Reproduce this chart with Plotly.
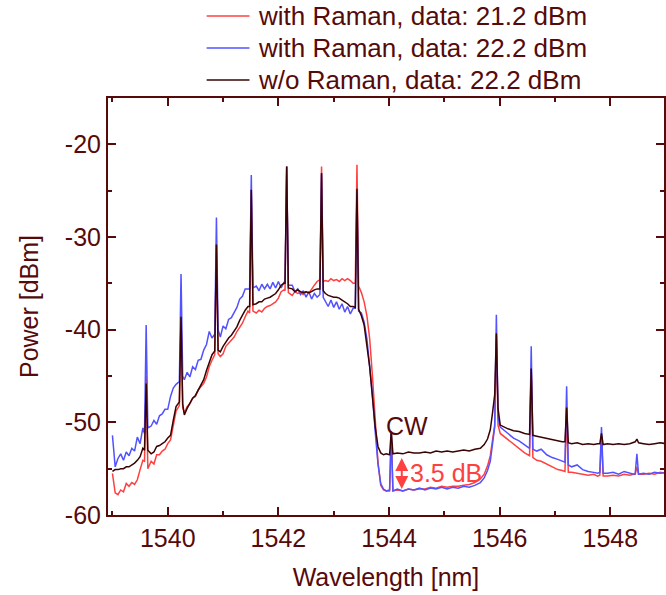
import plotly.graph_objects as go

# Optical spectrum: three measurement conditions on a shared wavelength grid
wavelength_nm = [
    1539.00, 1539.05, 1539.10, 1539.15, 1539.20, 1539.25, 1539.30, 1539.35, 1539.40, 1539.45,
    1539.50, 1539.55, 1539.58, 1539.61, 1539.64, 1539.70, 1539.75, 1539.80, 1539.85, 1539.90,
    1539.95, 1540.00, 1540.05, 1540.10, 1540.15, 1540.21, 1540.24, 1540.27, 1540.30, 1540.35,
    1540.40, 1540.45, 1540.50, 1540.55, 1540.60, 1540.65, 1540.70, 1540.75, 1540.80, 1540.85,
    1540.88, 1540.91, 1540.95, 1541.00, 1541.05, 1541.10, 1541.15, 1541.20, 1541.25, 1541.30,
    1541.35, 1541.40, 1541.45, 1541.48, 1541.51, 1541.54, 1541.60, 1541.65, 1541.70, 1541.75,
    1541.80, 1541.85, 1541.90, 1541.95, 1542.00, 1542.05, 1542.10, 1542.12, 1542.15, 1542.18,
    1542.25, 1542.30, 1542.35, 1542.40, 1542.45, 1542.50, 1542.55, 1542.60, 1542.65, 1542.70,
    1542.75, 1542.78, 1542.81, 1542.85, 1542.90, 1542.95, 1543.00, 1543.05, 1543.10, 1543.15,
    1543.20, 1543.25, 1543.30, 1543.35, 1543.39, 1543.42, 1543.45, 1543.50, 1543.55, 1543.60,
    1543.65, 1543.70, 1543.75, 1543.80, 1543.85, 1543.90, 1543.95, 1544.01, 1544.04, 1544.07,
    1544.15, 1544.25, 1544.35, 1544.45, 1544.55, 1544.65, 1544.75, 1544.85, 1544.95, 1545.05,
    1545.15, 1545.25, 1545.35, 1545.45, 1545.55, 1545.65, 1545.72, 1545.78, 1545.83, 1545.87,
    1545.91, 1545.94, 1545.97, 1546.01, 1546.07, 1546.15, 1546.25, 1546.35, 1546.45, 1546.54,
    1546.57, 1546.60, 1546.67, 1546.75, 1546.85, 1546.95, 1547.05, 1547.13, 1547.18, 1547.21,
    1547.24, 1547.30, 1547.40, 1547.50, 1547.60, 1547.70, 1547.77, 1547.81, 1547.84, 1547.87,
    1547.95, 1548.05, 1548.15, 1548.25, 1548.35, 1548.42, 1548.45, 1548.48, 1548.51, 1548.60,
    1548.70, 1548.80, 1548.90, 1549.00,
]

power_raman_21p2 = [
    -55.5, -57.6, -57.8, -57.3, -57.5, -56.6, -56.9, -56.5, -56.7, -56.2,
    -55.1, -54.1, -54.2, -45.0, -55.0, -54.2, -54.5, -53.5, -53.5, -53.1,
    -52.9, -52.3, -51.9, -50.5, -48.8, -48.2, -38.2, -48.4, -49.0, -48.3,
    -48.0, -47.4, -47.2, -46.5, -46.2, -45.8, -45.1, -44.0, -43.3, -42.7,
    -30.8, -42.6, -42.9, -42.6, -41.8, -41.5, -41.1, -40.8, -40.2, -39.7,
    -39.3, -38.6, -38.0, -38.2, -24.9, -38.0, -38.2, -37.9, -38.1, -37.7,
    -37.5, -37.4, -37.2, -37.0, -36.6, -35.9, -35.7, -35.8, -22.4, -36.0,
    -36.3, -35.9, -36.1, -36.0, -36.2, -35.9, -36.1, -35.6, -35.2, -34.8,
    -34.6, -22.4, -34.8, -34.7, -34.8, -34.5, -34.7, -34.6, -34.8, -34.5,
    -34.7, -34.5, -34.7, -35.0, -35.0, -22.2, -35.3, -36.0, -37.0, -38.5,
    -41.0, -45.0, -50.0, -54.3, -56.8, -57.3, -57.4, -57.4, -51.2, -57.4,
    -57.3, -57.4, -57.2, -57.3, -57.2, -57.2, -57.0, -57.1, -56.9, -57.0,
    -56.9, -56.9, -56.8, -56.7, -56.5, -56.1, -55.6, -54.7, -53.6, -52.0,
    -50.3, -40.6, -50.3, -51.2, -51.5, -51.9, -52.4, -52.8, -53.3, -53.6,
    -44.3, -53.8, -54.1, -54.2, -54.5, -54.8, -55.1, -55.2, -55.3, -48.6,
    -55.4, -55.4, -55.5, -55.6, -55.7, -55.6, -55.8, -55.7, -51.5, -55.8,
    -55.8, -55.7, -55.8, -55.6, -55.7, -55.6, -55.6, -54.8, -55.6, -55.6,
    -55.5, -55.6, -55.4, -55.5,
]

power_raman_22p2 = [
    -51.4, -54.8, -53.9, -53.4, -54.1, -53.2, -53.6, -52.8, -53.1, -51.6,
    -52.3, -50.6, -51.2, -39.5, -50.6, -50.4, -49.8, -50.2, -49.3, -49.1,
    -48.6, -48.6, -47.2, -46.3, -45.9, -45.6, -34.0, -45.0, -45.4, -44.6,
    -45.1, -44.0, -44.3, -43.3, -43.2, -42.2, -41.6, -40.2, -40.9, -40.5,
    -27.9, -40.0, -40.8, -39.6, -39.9, -38.9, -38.7, -38.1, -37.6, -36.7,
    -36.4, -35.6, -35.6, -35.6, -23.3, -35.5, -35.3, -35.8, -35.1, -35.6,
    -35.1, -35.6, -34.9, -35.5, -34.8, -35.5, -34.9, -35.0, -22.4, -35.2,
    -35.2, -35.9, -35.6, -36.2, -35.8, -36.5, -35.9, -36.7, -36.1, -36.5,
    -36.2, -23.2, -36.5, -37.0, -37.5, -36.8, -37.6, -37.0, -37.8, -37.2,
    -38.1, -37.5, -38.3, -37.7, -37.7, -25.0, -38.0, -38.2, -39.2, -41.0,
    -43.8, -47.0, -51.0, -54.5, -56.6, -57.2, -57.4, -57.3, -51.0, -57.4,
    -57.2, -57.4, -57.2, -57.3, -57.1, -57.3, -57.1, -57.2, -57.0, -57.2,
    -57.0, -57.1, -56.9, -57.0, -56.8, -56.5, -56.0, -55.2, -54.2, -52.5,
    -50.5, -38.4, -49.5, -50.5, -50.8, -51.1, -51.7, -52.0, -52.4, -52.8,
    -41.8, -52.9, -53.1, -52.9, -53.5, -53.8, -54.0, -54.2, -54.3, -46.1,
    -54.6, -54.8, -54.6, -55.1, -55.3, -55.4, -55.5, -55.4, -50.5, -55.5,
    -55.5, -55.4, -55.6, -55.3, -55.5, -55.6, -55.5, -53.4, -55.6, -55.5,
    -55.6, -55.4, -55.5, -55.4,
]

power_no_raman_22p2 = [
    -55.3, -55.1, -55.1, -55.0, -55.0, -54.8, -54.8, -54.6, -54.4, -54.1,
    -53.7, -52.8, -53.0, -45.8, -53.0, -53.4, -53.2, -52.6, -52.5, -52.3,
    -52.1, -51.7, -51.4, -49.8, -48.3, -47.8, -38.6, -48.0, -49.2, -48.5,
    -48.0, -47.4, -47.1, -46.5, -46.0, -45.4, -44.4, -43.6, -42.7, -42.3,
    -30.8, -42.2, -42.4, -41.8, -41.3, -40.9, -40.6, -40.2, -39.7, -39.0,
    -38.4, -37.9, -37.5, -37.5, -24.9, -37.3, -37.2, -37.0, -37.0, -36.7,
    -36.6, -36.5, -36.3, -36.1, -35.7, -35.2, -35.0, -35.0, -22.4, -35.5,
    -35.6, -35.9, -35.7, -35.9, -36.0, -35.9, -36.0, -35.9, -35.7, -35.6,
    -35.6, -23.1, -35.8, -36.1, -36.3, -36.4, -36.5, -36.5, -36.6, -36.8,
    -37.0, -37.2, -37.5, -37.5, -37.6, -24.8, -37.8, -38.5, -39.5, -41.5,
    -44.0, -47.3, -50.5, -52.6, -53.3, -53.5, -53.4, -53.5, -51.0, -53.4,
    -53.3, -53.4, -53.2, -53.3, -53.3, -53.2, -53.3, -53.1, -53.2, -53.1,
    -53.2, -53.1, -53.0, -53.1, -52.9, -52.8, -52.4, -51.8, -50.8, -49.0,
    -47.0, -40.4, -48.5, -50.3, -50.5, -50.7, -50.9, -51.0, -51.2, -51.3,
    -44.2, -51.4, -51.5, -51.6, -51.7, -51.9, -52.0, -52.1, -52.1, -48.4,
    -52.2, -52.3, -52.2, -52.4, -52.3, -52.4, -52.3, -52.3, -51.2, -52.4,
    -52.3, -52.4, -52.3, -52.4, -52.3, -52.2, -52.1, -51.8, -52.2, -52.3,
    -52.4, -52.3, -52.2, -52.3,
]

series_names = [
    "with Raman, data: 21.2 dBm",
    "with Raman, data: 22.2 dBm",
    "w/o Raman, data: 22.2 dBm",
]

x_ticks = [1540, 1542, 1544, 1546, 1548]
y_ticks = [-60, -50, -40, -30, -20]

# CW probe position and the Raman suppression gain in the notch
cw_wavelength = 1544.23
notch_floor_without = -53.7
gain_db = 3.5

INK = "#560a0a"
RED = "#ff4040"
BLUE = "#5252ff"
DARK = "#3a0303"
FONT = "Liberation Sans, Arial, Helvetica, sans-serif"

# Plot-area geometry (pixels) used to place the key above the frame
W, H = 666, 595
M_L, M_R, M_T, M_B = 108, 0, 98, 80
plot_w = W - M_L - M_R
plot_h = H - M_T - M_B


def px_to_paper(px, py):
    return (px - M_L) / plot_w, (H - M_B - py) / plot_h


fig = go.Figure()
colors = [RED, BLUE, DARK]
for name, values, color in zip(
    series_names,
    [power_raman_21p2, power_raman_22p2, power_no_raman_22p2],
    colors,
):
    fig.add_trace(go.Scatter(
        x=wavelength_nm, y=values, mode="lines", name=name,
        line=dict(color=color, width=1.5), showlegend=False,
    ))

# Key: a short coloured stroke followed by the series label, one row each
for i, (name, color) in enumerate(zip(series_names, colors)):
    row_y = 16 + 32 * i
    x0, y0 = px_to_paper(207, row_y)
    x1, _ = px_to_paper(250, row_y)
    xt, _ = px_to_paper(257, row_y)
    fig.add_shape(type="line", xref="paper", yref="paper",
                  x0=x0, x1=x1, y0=y0, y1=y0,
                  line=dict(color=color, width=1.5))
    fig.add_annotation(xref="paper", yref="paper", x=xt, y=y0,
                       xanchor="left", yanchor="middle", text=name,
                       showarrow=False,
                       font=dict(size=26, color=INK, family=FONT))

fig.add_annotation(
    x=cw_wavelength + 0.1, y=-50.4, text="CW", showarrow=False,
    font=dict(size=25, color=INK, family=FONT),
)
fig.add_annotation(
    x=cw_wavelength, y=notch_floor_without - gain_db,
    ax=cw_wavelength, ay=notch_floor_without,
    axref="x", ayref="y", text="", showarrow=True,
    arrowside="end+start", arrowhead=2, startarrowhead=2,
    arrowsize=1.3, startarrowsize=1.3, arrowwidth=2, arrowcolor=RED,
    standoff=0, startstandoff=0,
)
fig.add_annotation(
    x=cw_wavelength + 0.12, y=notch_floor_without - gain_db / 2,
    text=f"{gain_db} dB", showarrow=False, xanchor="left",
    font=dict(size=25, color=RED, family=FONT),
)

axis_common = dict(
    showline=True, linecolor=INK, linewidth=2, mirror="ticks",
    ticks="inside", ticklen=8, tickwidth=1.5, tickcolor=INK,
    showgrid=False, zeroline=False,
    tickfont=dict(size=25, color=INK, family=FONT),
)

fig.update_xaxes(
    range=[1538.92, 1548.97],
    tickvals=x_ticks, ticktext=[str(v) for v in x_ticks],
    minor=dict(ticks="inside", ticklen=4, dtick=1, tick0=1540,
               tickcolor=INK, tickwidth=1.5),
    title=dict(text="Wavelength [nm]", font=dict(size=25, color=INK, family=FONT), standoff=17),
    **axis_common,
)
fig.update_yaxes(
    range=[-60, -15],
    tickvals=y_ticks, ticktext=[str(v) for v in y_ticks],
    minor=dict(ticks="inside", ticklen=4, dtick=5, tick0=-60,
               tickcolor=INK, tickwidth=1.5),
    title=dict(text="Power [dBm]", font=dict(size=25, color=INK, family=FONT), standoff=19),
    **axis_common,
)

fig.update_layout(
    width=W, height=H,
    margin=dict(l=M_L, r=M_R, t=M_T, b=M_B),
    plot_bgcolor="white", paper_bgcolor="white",
    font=dict(family=FONT, color=INK),
    showlegend=False,
)

fig.write_html("out.html")
